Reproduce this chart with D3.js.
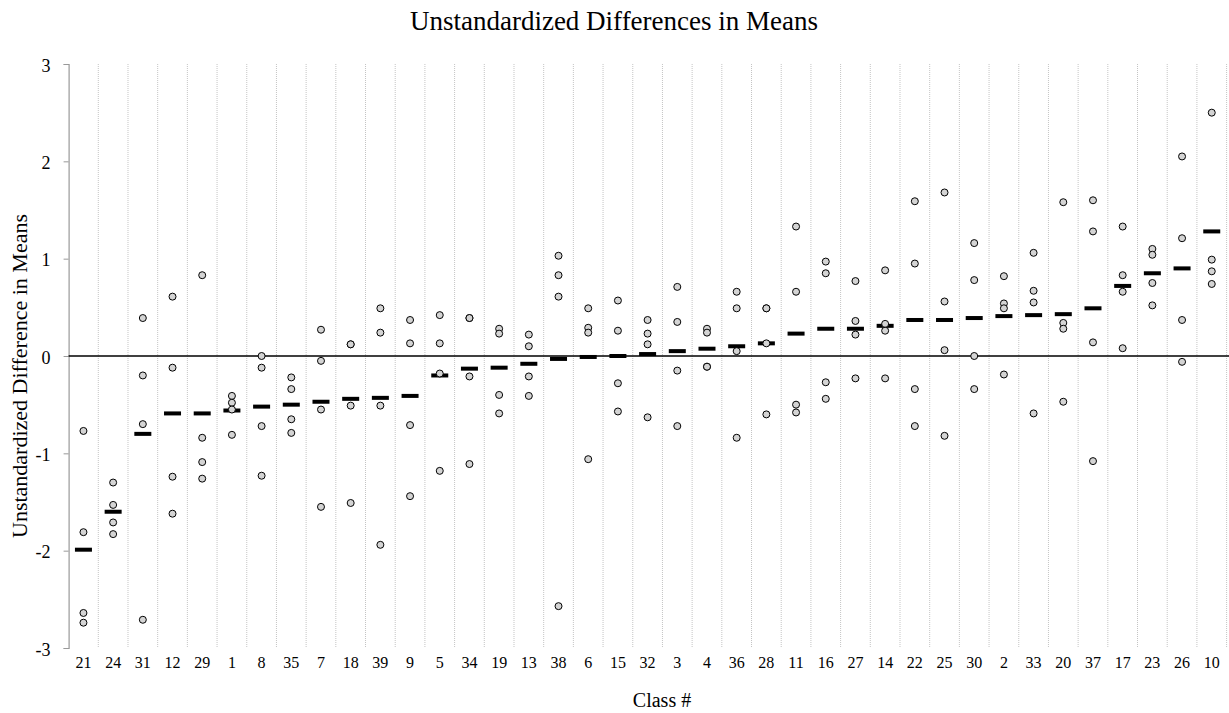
<!DOCTYPE html>
<html>
<head>
<meta charset="utf-8">
<script src="https://cdn.jsdelivr.net/npm/d3@7"></script>
<style>
  html, body { margin: 0; padding: 0; background: #fff; }
  svg { display: block; }
  text { font-family: "Liberation Serif", "Times New Roman", serif; fill: #000; }
</style>
</head>
<body>
<svg id="chart" width="1229" height="713"></svg>
<script>
// Classes, ordered by their mean difference
const classes = ["21","24","31","12","29","1","8","35","7","18","39","9","5","34","19","13","38","6","15","32","3","4","36","28","11","16","27","14","22","25","30","2","33","20","37","17","23","26","10"];

// Mean unstandardized difference per class
const classMeans = [-1.99,-1.60,-0.80,-0.59,-0.59,-0.56,-0.52,-0.50,-0.47,-0.44,-0.43,-0.41,-0.20,-0.13,-0.12,-0.08,-0.03,-0.01,0.00,0.02,0.05,0.075,0.10,0.13,0.23,0.28,0.28,0.31,0.37,0.37,0.39,0.41,0.42,0.43,0.49,0.72,0.85,0.90,1.28];

// Individual section differences, four per class (same order as classes)
const sectionDiffs = [
  [-0.77,-1.81,-2.64,-2.74],
  [-1.30,-1.53,-1.71,-1.83],
  [0.39,-0.20,-0.70,-2.71],
  [0.61,-0.12,-1.24,-1.62],
  [0.83,-0.84,-1.09,-1.26],
  [-0.41,-0.48,-0.55,-0.81],
  [0.00,-0.12,-0.72,-1.23],
  [-0.22,-0.34,-0.65,-0.79],
  [0.27,-0.05,-0.55,-1.55],
  [0.12,0.12,-0.51,-1.51],
  [0.49,0.24,-0.51,-1.94],
  [0.37,0.13,-0.71,-1.44],
  [0.42,0.13,-0.18,-1.18],
  [0.39,0.39,-0.21,-1.11],
  [0.28,0.23,-0.40,-0.59],
  [0.22,0.10,-0.21,-0.41],
  [1.03,0.83,0.61,-2.57],
  [0.49,0.29,0.24,-1.06],
  [0.57,0.26,-0.28,-0.57],
  [0.37,0.23,0.12,-0.63],
  [0.71,0.35,-0.15,-0.72],
  [0.28,0.24,-0.11,-0.11],
  [0.66,0.49,0.05,-0.84],
  [0.49,0.49,0.13,-0.60],
  [1.33,0.66,-0.50,-0.58],
  [0.97,0.85,-0.27,-0.44],
  [0.77,0.36,0.22,-0.23],
  [0.88,0.33,0.26,-0.23],
  [1.59,0.95,-0.34,-0.72],
  [1.68,0.56,0.06,-0.82],
  [1.16,0.78,0.00,-0.34],
  [0.82,0.54,0.49,-0.19],
  [1.06,0.67,0.55,-0.59],
  [1.58,0.34,0.28,-0.47],
  [1.60,1.28,0.14,-1.08],
  [1.33,0.83,0.66,0.08],
  [1.10,1.04,0.75,0.52],
  [2.05,1.21,0.37,-0.06],
  [2.50,0.99,0.87,0.74]
];

const yTicks = [-3,-2,-1,0,1,2,3];

const svg = d3.select("#chart");
const plot = { left: 68.6, right: 1226.6, top: 64, bottom: 648 };

const x = d3.scaleBand().domain(classes).range([plot.left, plot.right]).padding(0);
const y = d3.scaleLinear().domain([-3, 3]).range([plot.bottom, plot.top]);

// Dotted separators between classes
svg.append("g")
  .selectAll("line")
  .data(classes)
  .join("line")
  .attr("x1", d => x(d) + x.bandwidth())
  .attr("x2", d => x(d) + x.bandwidth())
  .attr("y1", plot.top)
  .attr("y2", plot.bottom)
  .attr("stroke", "#c4c4c4")
  .attr("stroke-width", 1)
  .attr("stroke-dasharray", "1,1");

// Y axis
const yAxis = svg.append("g")
  .attr("transform", `translate(${plot.left},0)`)
  .call(d3.axisLeft(y).tickValues(yTicks).tickFormat(d => String(d))
    .tickSize(5).tickSizeOuter(5).tickPadding(13));
yAxis.select(".domain").attr("stroke", "#999").attr("stroke-width", 1.2);
yAxis.selectAll(".tick line").attr("stroke", "#999");
yAxis.selectAll(".tick text")
  .attr("font-family", "Liberation Serif, serif")
  .attr("font-size", 18)
  .attr("dy", "0.4em")
  .attr("fill", "#000");

// Zero reference line
svg.append("line")
  .attr("x1", plot.left)
  .attr("x2", 1229)
  .attr("y1", y(0))
  .attr("y2", y(0))
  .attr("stroke", "#000")
  .attr("stroke-width", 1.3);

// X category labels
const xAxis = svg.append("g")
  .attr("transform", `translate(0,${plot.bottom})`)
  .call(d3.axisBottom(x).tickSize(0).tickPadding(9));
xAxis.select(".domain").remove();
xAxis.selectAll(".tick text")
  .attr("font-family", "Liberation Serif, serif")
  .attr("font-size", 16)
  .attr("fill", "#000");

// Mean bars
const barW = 17, barH = 4;
svg.append("g")
  .selectAll("rect")
  .data(classes.map((c, i) => ({ c, m: classMeans[i] })))
  .join("rect")
  .attr("x", d => x(d.c) + x.bandwidth() / 2 - barW / 2)
  .attr("y", d => y(d.m) - barH / 2)
  .attr("width", barW)
  .attr("height", barH)
  .attr("fill", "#000");

// Section points
const pts = [];
classes.forEach((c, i) => sectionDiffs[i].forEach(v => pts.push({ c, v })));
svg.append("g")
  .selectAll("circle")
  .data(pts)
  .join("circle")
  .attr("cx", d => x(d.c) + x.bandwidth() / 2)
  .attr("cy", d => y(d.v))
  .attr("r", 3.5)
  .attr("fill", "#d4d4d4")
  .attr("stroke", "#000")
  .attr("stroke-width", 1);

// Titles
svg.append("text")
  .attr("x", 614)
  .attr("y", 30)
  .attr("text-anchor", "middle")
  .attr("font-size", 27)
  .text("Unstandardized Differences in Means");

svg.append("text")
  .attr("transform", "translate(27,376) rotate(-90)")
  .attr("text-anchor", "middle")
  .attr("font-size", 22)
  .text("Unstandardized Difference in Means");

svg.append("text")
  .attr("x", 662)
  .attr("y", 707)
  .attr("text-anchor", "middle")
  .attr("font-size", 20)
  .text("Class #");
</script>
</body>
</html>
